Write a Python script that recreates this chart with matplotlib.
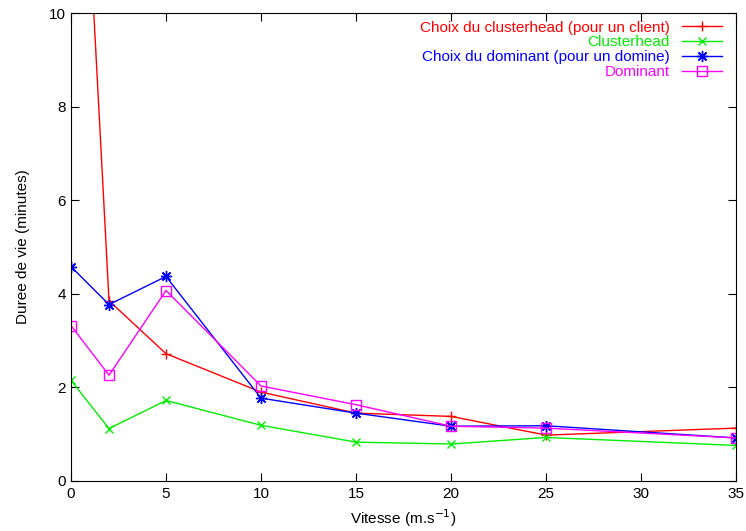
import matplotlib
matplotlib.use('Agg')
import matplotlib.pyplot as plt

plt.rcParams['font.family'] = ['Liberation Sans', 'DejaVu Sans']

vitesse = [0, 2, 5, 10, 15, 20, 25, 35]
choix_clusterhead = [19.2, 3.85, 2.72, 1.9, 1.45, 1.38, 0.98, 1.13]
clusterhead = [2.15, 1.12, 1.72, 1.19, 0.83, 0.79, 0.93, 0.76]
choix_dominant = [4.58, 3.77, 4.37, 1.77, 1.45, 1.17, 1.18, 0.92]
dominant = [3.32, 2.26, 4.07, 2.03, 1.63, 1.17, 1.13, 0.92]

fig = plt.figure(figsize=(7.46, 5.31), dpi=100)
ax = fig.add_axes([0.0952, 0.0942, 0.8914, 0.8813])

ax.plot(vitesse, choix_clusterhead, color='#ff0000', marker='+', ms=7, lw=1,
        label='Choix du clusterhead (pour un client)')
ax.plot(vitesse, clusterhead, color='#00ee00', marker='x', ms=6, lw=1,
        label='Clusterhead')
ax.plot(vitesse, choix_dominant, color='#0000ff', marker=(8, 2, 0), ms=8, lw=1,
        label='Choix du dominant (pour un domine)')
ax.plot(vitesse, dominant, color='#ff00ff', marker='s', ms=7, mfc='none', lw=1,
        label='Dominant')

ax.set_xlim(0, 35)
ax.set_ylim(0, 10)
ax.set_xticks([0, 5, 10, 15, 20, 25, 30, 35])
ax.set_yticks([0, 2, 4, 6, 8, 10])
ax.tick_params(direction='in', top=True, right=True, length=6, labelsize=11)
ax.tick_params(axis='x', pad=4)
ax.set_xlabel('Vitesse (m.s$^{-1}$)', fontsize=11, labelpad=5)
ax.set_ylabel('Duree de vie (minutes)', fontsize=11, labelpad=14)

ax.legend(loc='upper right', bbox_to_anchor=(0.99, 1.0), frameon=False,
          markerfirst=False, labelcolor='linecolor', fontsize=11,
          handlelength=2.6, labelspacing=0.05, borderaxespad=0.1)

fig.savefig('out.png', dpi=100)
